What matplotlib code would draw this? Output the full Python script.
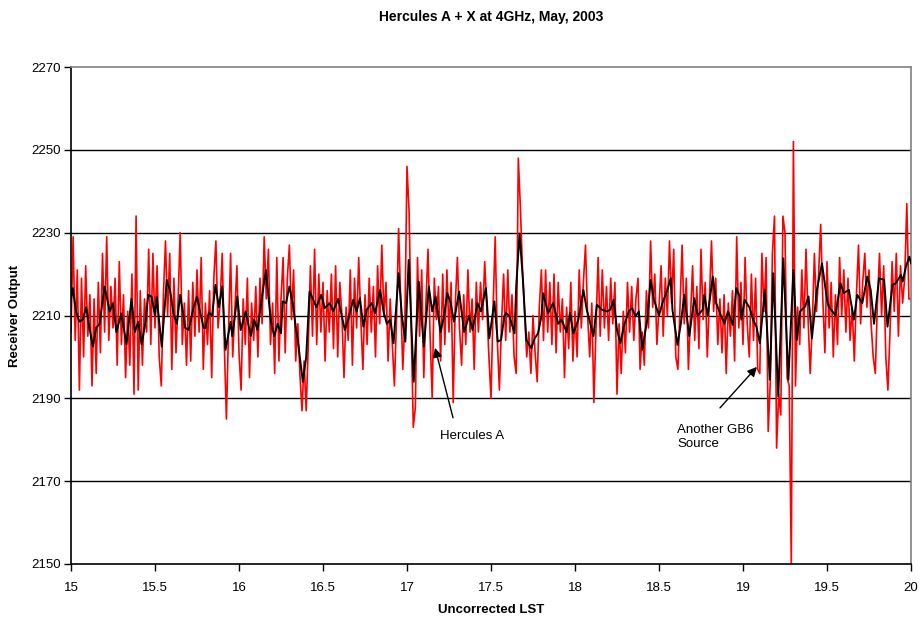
import numpy as np
import matplotlib
matplotlib.use('Agg')
import matplotlib.pyplot as plt

plt.rcParams['font.family'] = ['Liberation Sans', 'DejaVu Sans']

# raw receiver output, one value every 0.0125 h of LST from 15 to 20
red_start = 15.0
red_step = 0.0125
red_val = [
    2206, 2229, 2204, 2221, 2192, 2219, 2200, 2222, 2205, 2215, 2193, 2214, 2196, 2218, 2201, 2225, 2206, 2229, 2204, 2217,
    2207, 2219, 2198, 2223, 2203, 2215, 2195, 2211, 2198, 2220, 2191, 2234, 2192, 2216, 2198, 2214, 2206, 2226, 2203, 2225,
    2207, 2222, 2200, 2193, 2215, 2228, 2210, 2225, 2197, 2219, 2201, 2214, 2230, 2203, 2213, 2198, 2216, 2199, 2218, 2205,
    2221, 2206, 2224, 2197, 2213, 2203, 2216, 2195, 2219, 2228, 2207, 2213, 2225, 2203, 2185, 2206, 2225, 2200, 2211, 2222,
    2201, 2192, 2214, 2203, 2219, 2195, 2213, 2204, 2217, 2200, 2219, 2208, 2229, 2214, 2226, 2203, 2213, 2196, 2224, 2199,
    2214, 2224, 2201, 2219, 2227, 2209, 2221, 2199, 2208, 2196, 2187, 2199, 2187, 2203, 2222, 2205, 2226, 2203, 2220, 2206,
    2218, 2199, 2216, 2206, 2220, 2202, 2222, 2200, 2218, 2210, 2195, 2212, 2204, 2221, 2198, 2219, 2207, 2224, 2209, 2197,
    2215, 2203, 2219, 2206, 2217, 2200, 2222, 2208, 2227, 2210, 2218, 2199, 2214, 2203, 2193, 2209, 2231, 2214, 2197, 2209,
    2246, 2235, 2207, 2183, 2188, 2224, 2205, 2221, 2195, 2213, 2226, 2205, 2190, 2219, 2209, 2217, 2199, 2220, 2203, 2221,
    2206, 2218, 2189, 2213, 2224, 2207, 2198, 2215, 2203, 2221, 2206, 2214, 2197, 2218, 2206, 2218, 2209, 2223, 2212, 2200,
    2190, 2212, 2229, 2204, 2192, 2208, 2220, 2204, 2221, 2206, 2215, 2200, 2196, 2248, 2236, 2221, 2211, 2200, 2206, 2196,
    2210, 2201, 2194, 2212, 2221, 2204, 2221, 2206, 2218, 2203, 2220, 2201, 2218, 2206, 2214, 2195, 2212, 2202, 2218, 2199,
    2211, 2200, 2221, 2207, 2218, 2227, 2210, 2200, 2213, 2189, 2207, 2224, 2205, 2221, 2207, 2217, 2204, 2219, 2208, 2218,
    2191, 2208, 2196, 2211, 2201, 2218, 2206, 2217, 2204, 2214, 2219, 2197, 2206, 2198, 2216, 2207, 2228, 2212, 2220, 2203,
    2212, 2222, 2205, 2219, 2210, 2228, 2213, 2226, 2200, 2197, 2212, 2227, 2208, 2219, 2197, 2210, 2222, 2204, 2217, 2202,
    2226, 2209, 2218, 2200, 2214, 2228, 2211, 2219, 2203, 2214, 2201, 2215, 2196, 2213, 2205, 2216, 2199, 2229, 2207, 2218,
    2203, 2224, 2208, 2200, 2220, 2204, 2219, 2197, 2196, 2225, 2211, 2224, 2182, 2194, 2225, 2234, 2178, 2191, 2186, 2234,
    2230, 2195, 2193, 2150, 2252, 2193, 2212, 2203, 2221, 2207, 2226, 2209, 2196, 2208, 2225, 2211, 2220, 2232, 2214, 2201,
    2223, 2207, 2218, 2200, 2215, 2203, 2224, 2210, 2221, 2206, 2219, 2204, 2212, 2199, 2215, 2227, 2208, 2218, 2225, 2212,
    2221, 2208, 2200, 2196, 2213, 2225, 2210, 2222, 2200, 2192, 2206, 2223, 2211, 2225, 2205, 2222, 2213, 2219, 2237, 2214,
    2214,
]
red_lst = red_start + red_step * np.arange(len(red_val))

# smoothed (running average) trace, read point by point
black_lst = [
    15.00, 15.01, 15.03, 15.05, 15.07, 15.09, 15.11, 15.13, 15.15, 15.17, 15.20, 15.23, 15.25, 15.27, 15.30, 15.33,
    15.36, 15.38, 15.40, 15.42, 15.44, 15.46, 15.48, 15.50, 15.51, 15.54, 15.57, 15.59, 15.61, 15.63, 15.65, 15.68,
    15.70, 15.73, 15.75, 15.77, 15.79, 15.80, 15.82, 15.84, 15.86, 15.88, 15.90, 15.92, 15.95, 15.96, 15.99, 16.01,
    16.04, 16.07, 16.09, 16.11, 16.14, 16.16, 16.19, 16.21, 16.23, 16.25, 16.26, 16.28, 16.30, 16.32, 16.34, 16.35,
    16.38, 16.40, 16.42, 16.44, 16.46, 16.49, 16.51, 16.54, 16.56, 16.59, 16.63, 16.65, 16.68, 16.70, 16.72, 16.74,
    16.76, 16.79, 16.81, 16.84, 16.86, 16.88, 16.90, 16.92, 16.95, 16.97, 16.99, 17.01, 17.04, 17.07, 17.10, 17.13,
    17.15, 17.17, 17.20, 17.22, 17.24, 17.26, 17.28, 17.31, 17.34, 17.37, 17.39, 17.42, 17.44, 17.47, 17.49, 17.52,
    17.54, 17.56, 17.58, 17.59, 17.61, 17.64, 17.65, 17.67, 17.69, 17.71, 17.74, 17.76, 17.78, 17.80, 17.81, 17.84,
    17.87, 17.90, 17.92, 17.95, 17.97, 17.99, 18.02, 18.05, 18.07, 18.11, 18.13, 18.16, 18.19, 18.21, 18.23, 18.25,
    18.27, 18.29, 18.32, 18.34, 18.36, 18.38, 18.40, 18.43, 18.45, 18.47, 18.50, 18.52, 18.55, 18.57, 18.58, 18.61,
    18.63, 18.65, 18.68, 18.71, 18.73, 18.76, 18.77, 18.79, 18.82, 18.84, 18.87, 18.89, 18.91, 18.94, 18.96, 18.98,
    18.99, 19.01, 19.04, 19.06, 19.08, 19.10, 19.13, 19.16, 19.18, 19.21, 19.24, 19.27, 19.30, 19.32, 19.34, 19.37,
    19.39, 19.41, 19.44, 19.47, 19.50, 19.51, 19.55, 19.58, 19.60, 19.63, 19.66, 19.68, 19.71, 19.74, 19.76, 19.78,
    19.81, 19.84, 19.86, 19.89, 19.91, 19.94, 19.95, 19.97, 19.99, 20.00,
]
black_val = [
    2214, 2216.6, 2211, 2208.5, 2209, 2212, 2207, 2202.5, 2207, 2208, 2217, 2211, 2213, 2206, 2210.5, 2203,
    2214, 2206, 2208.5, 2203, 2207.5, 2215, 2214.5, 2210, 2214.5, 2202.5, 2218.6, 2216, 2210.5, 2208, 2215, 2207,
    2206.5, 2212, 2214.5, 2210.5, 2207, 2207, 2210.7, 2210, 2217.4, 2212, 2217, 2201.7, 2208.5, 2205, 2214.6, 2206.5,
    2211, 2205, 2209, 2206.5, 2215.4, 2221, 2208.5, 2205, 2208, 2205.7, 2213.4, 2213, 2217, 2213, 2206.5, 2204,
    2194, 2200, 2215.8, 2214, 2212, 2215, 2211.8, 2213, 2211, 2214, 2206.5, 2209, 2213.8, 2211, 2214.2, 2207.3,
    2211.4, 2213, 2210.6, 2216.2, 2211, 2208, 2209, 2203.3, 2220.2, 2209.8, 2203.7, 2223.4, 2194, 2218.2, 2202.5, 2217,
    2211, 2214.6, 2206, 2209.8, 2215.4, 2213, 2208.5, 2215.8, 2206, 2210, 2206.5, 2213, 2211, 2216.6, 2204.5, 2213.4,
    2203.7, 2204.1, 2210, 2210.6, 2209.8, 2205.7, 2217, 2229.8, 2218.6, 2204.1, 2202.1, 2204.5, 2205.7, 2209.8, 2215.4, 2210.6,
    2213, 2208, 2209, 2206, 2210.6, 2205.7, 2209, 2216.2, 2211.4, 2205, 2212.6, 2211.4, 2211, 2211.4, 2213.8, 2206.5,
    2203.3, 2207.3, 2211, 2211.8, 2209.8, 2211, 2201.7, 2209, 2218.6, 2213.8, 2210, 2213, 2216.2, 2219, 2211.4, 2202.9,
    2208, 2215, 2205, 2214.2, 2210, 2211.4, 2215, 2210, 2219.4, 2213, 2209.8, 2208, 2211, 2207.7, 2216.6, 2214.6,
    2209, 2213.8, 2211.8, 2209, 2207.3, 2203.3, 2216.2, 2194.5, 2220.2, 2190.5, 2223.8, 2194.5, 2221, 2204.1, 2211, 2212.2,
    2214.6, 2204.5, 2216.2, 2222.6, 2213.8, 2212.2, 2210, 2217.8, 2215.4, 2216.2, 2209, 2215, 2213, 2219.4, 2216.2, 2208,
    2219, 2218.6, 2207.3, 2217.4, 2217.8, 2219.8, 2218.2, 2221.8, 2224.2, 2222.6,
]

x_ticks = [15, 15.5, 16, 16.5, 17, 17.5, 18, 18.5, 19, 19.5, 20]
y_ticks = [2150, 2170, 2190, 2210, 2230, 2250, 2270]

fig = plt.figure(figsize=(9.22, 6.19), dpi=100)
ax = fig.add_axes([71/922, 1 - 564/619, 840/922, 497/619])

for yv in y_ticks[1:-1]:
    ax.axhline(yv, color='black', lw=1.0, zorder=1)

ax.plot(red_lst, red_val, color='#ff0000', lw=1.2, zorder=2)
ax.plot(black_lst, black_val, color='black', lw=1.4, zorder=3)

ax.set_xlim(15, 20)
ax.set_ylim(2150, 2270)
ax.set_xticks(x_ticks)
ax.set_xticklabels([f'{t:g}' for t in x_ticks])
ax.set_yticks(y_ticks)
ax.tick_params(direction='out', length=5, width=1, labelsize=9.5, colors='black')
ax.tick_params(axis='x', pad=8)
ax.tick_params(axis='y', pad=2)

ax.spines['left'].set_color('black')
ax.spines['bottom'].set_color('black')
ax.spines['top'].set_color('#808080')
ax.spines['right'].set_color('#808080')
for s in ax.spines.values():
    s.set_linewidth(1.2)

ax.set_title('Hercules A + X at 4GHz, May, 2003', fontsize=10, fontweight='bold', pad=33)
ax.set_xlabel('Uncorrected LST', fontsize=9.5, fontweight='bold', labelpad=7)
ax.set_ylabel('Receiver Output', fontsize=9.5, fontweight='bold', labelpad=8)

arrow = dict(arrowstyle='-|>', color='black', lw=1, mutation_scale=14, shrinkA=0, shrinkB=0)
ax.annotate('', xy=(17.167, 2202.2), xytext=(17.274, 2185.3), arrowprops=arrow, zorder=5)
ax.text(17.39, 2181, 'Hercules A', fontsize=9.5, ha='center', va='center', zorder=5)
ax.annotate('', xy=(19.083, 2197.6), xytext=(18.863, 2187.7), arrowprops=arrow, zorder=5)
ax.text(18.61, 2180.7, 'Another GB6\nSource', fontsize=9.5, ha='left', va='center',
        linespacing=1.3, zorder=5)

fig.savefig('out.png', dpi=100)
